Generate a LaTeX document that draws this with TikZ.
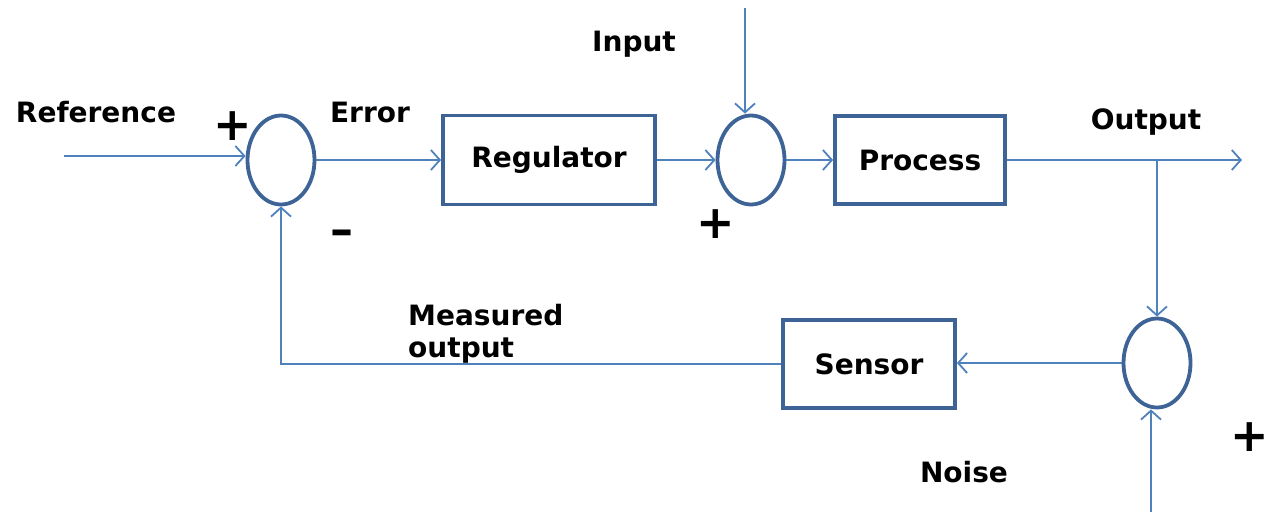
\documentclass[tikz,border=0pt]{standalone}
\usepackage{fontspec}
\setmainfont{DejaVu Sans}
\usetikzlibrary{shapes.geometric,arrows.meta}
\definecolor{boxblue}{HTML}{3E6396}
\definecolor{lineblue}{HTML}{4F81BD}
\tikzset{
  every node/.style={font=\bfseries\fontsize{28}{32}\selectfont, inner sep=0pt},
  sumnode/.style={ellipse, draw=boxblue, line width=3.8pt, minimum width=67pt, minimum height=89pt},
  blockbox/.style={rectangle, draw=boxblue, line width=3.8pt},
  conn/.style={draw=lineblue, line width=2pt},
  arr/.style={conn, -{Straight Barb[length=9pt,width=20pt,line width=1.8pt]}},
  sign/.style={font=\bfseries\fontsize{46}{46}\selectfont, text=black},
}
\begin{document}
\begin{tikzpicture}[x=1pt,y=-1pt]
\useasboundingbox (0,0) rectangle (1268,512);
% summing junctions
\node[sumnode] (s1) at (281,160) {};
\node[sumnode] (s2) at (751,160) {};
\node[sumnode] (s3) at (1157,363) {};
% blocks
\node[blockbox, minimum width=212pt, minimum height=89pt] (reg) at (549,160) {Regulator};
\node[blockbox, minimum width=170pt, minimum height=88pt] (proc) at (920,160) {Process};
\node[blockbox, minimum width=172pt, minimum height=88pt] (sen) at (869,364) {Sensor};
% free ends
\coordinate (refstart) at (64,156);
\coordinate (inp) at (745,8);
\coordinate (outend) at (1242,160);
\coordinate (br) at (1157,160);
\coordinate (noise) at (1151,512);
% connectors
\draw[arr] (refstart) -- (refstart -| s1.west);
\draw[arr] (s1.east) -- (s1.east -| reg.west);
\draw[arr] (reg.east) -- (reg.east -| s2.west);
\draw[arr] (inp) -- (inp |- s2.north);
\draw[arr] (s2.east) -- (s2.east -| proc.west);
\draw[arr] (proc.east) -- (outend);
\draw[arr] (br) -- (s3.north);
\draw[arr] (noise) -- (noise |- s3.south);
\draw[arr] (s3.west) -- (s3.west -| sen.east);
\draw[arr] (sen.west) -| (s1.south);
% labels
\node (lref) at (96,112) {Reference};
\node (lerr) at (370,112) {Error};
\node (linp) at (634,44) {Input};
\node (lout) at (1146,122) {Output};
\node[align=left, anchor=north west] (lmeas) at (408,304) {Measured\\output};
\node (lnoise) at (964,472) {Noise};
% signs
\node[sign] (p1) at (233,126) {+};
\node[sign] (m1) at (342,238) {–};
\node[sign] (p2) at (716,224) {+};
\node[sign] (p3) at (1250,437) {+};
\end{tikzpicture}
\end{document}
